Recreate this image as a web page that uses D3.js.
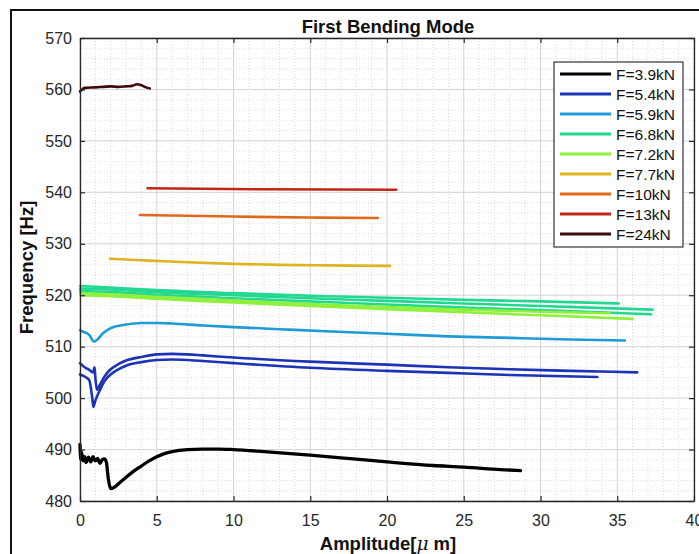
<!DOCTYPE html>
<html><head><meta charset="utf-8">
<script src="https://cdn.jsdelivr.net/npm/d3@7"></script>
<style>
body{margin:0;background:#fff;}
text{font-family:"Liberation Sans",Arial,sans-serif;}
</style></head>
<body><svg id="chart" width="699" height="554"></svg>
<script>
// ---- data ----
const forces = ["F=3.9kN","F=5.4kN","F=5.9kN","F=6.8kN","F=7.2kN","F=7.7kN","F=10kN","F=13kN","F=24kN"];
const forceColors = ["#000000","#1c33b5","#1e9bd7","#22d890","#8ff03c","#e0b420","#e06818","#c22418","#3b0b0b"];
const xTicks = [0,5,10,15,20,25,30,35,40];
const yTicks = [480,490,500,510,520,530,540,550,560,570];

const c39 = [[0,491],[0.05,488],[0.1,489.5],[0.2,487.8],[0.3,488.6],[0.4,487.5],[0.55,488.5],[0.7,487.6],[0.85,488.6],[1.0,487.8],[1.15,488.3],[1.3,487.3],[1.45,488],[1.6,488.2],[1.72,487.5],[1.85,484.2],[2.0,482.4],[2.3,482.8],[2.6,483.6],[3,484.6],[3.5,485.8],[4,486.8],[4.5,487.8],[5,488.6],[5.5,489.2],[6,489.6],[7,490.0],[8,490.1],[9,490.1],[10,490.0],[12,489.6],[15,488.9],[17,488.4],[20,487.6],[23,486.9],[25,486.6],[27.4,486.1],[28.7,485.9]];
const c54a = [[0,506.8],[0.3,506],[0.6,505.5],[0.85,505],[0.95,506],[1.0,504],[1.1,501.6],[1.3,502.6],[1.6,504.2],[2,505.6],[2.5,506.6],[3,507.3],[4,508.0],[5,508.5],[6,508.6],[7,508.5],[8,508.3],[10,507.9],[15,507.1],[20,506.5],[24,506.0],[28,505.6],[32,505.3],[36.3,505.0]];
const c54b = [[0,504.6],[0.3,504.2],[0.6,503.5],[0.8,500],[0.87,498.3],[1.0,499.5],[1.3,501.6],[1.6,503.3],[2,504.6],[2.5,505.6],[3,506.3],[4,507.0],[5,507.4],[6,507.5],[8,507.2],[10,506.8],[15,505.9],[20,505.3],[24,504.9],[28,504.5],[33.7,504.1]];
const c59 = [[0,513.2],[0.3,512.8],[0.6,512.3],[0.9,511.0],[1.1,511.3],[1.5,512.6],[2,513.6],[3,514.3],[4,514.6],[5,514.6],[6,514.5],[8,514.1],[10,513.8],[13,513.4],[16,513.0],[20,512.5],[24,512.0],[28,511.7],[32,511.4],[35.5,511.2]];
const c68a = [[0,521.8],[2,521.5],[5,521.0],[10,520.4],[15,519.9],[20,519.5],[25,519.1],[30,518.8],[35.1,518.4]];
const c68b = [[0,521.3],[2,521.1],[5,520.6],[10,520.0],[15,519.4],[20,518.9],[25,518.4],[30,517.9],[37.3,517.2]];
const c68c = [[0,520.8],[2,520.6],[5,520.1],[10,519.4],[15,518.8],[20,518.2],[25,517.6],[30,517.1],[37.2,516.3]];
const c72a = [[0,520.4],[2,520.2],[5,519.7],[10,519.0],[15,518.3],[20,517.7],[25,517.2],[30,516.8],[34.5,516.5]];
const c72b = [[0,520.0],[2,519.8],[5,519.3],[10,518.6],[15,517.9],[20,517.3],[25,516.7],[30,516.1],[36.0,515.4]];
const c77 = [[1.95,527.1],[4,526.8],[7,526.4],[10,526.1],[13,525.9],[16,525.8],[20.2,525.7]];
const c10 = [[3.9,535.6],[10,535.3],[15,535.1],[19.4,535.0]];
const c13 = [[4.4,540.8],[12,540.6],[20.6,540.5]];
const c24 = [[0,559.6],[0.1,559.9],[0.3,560.3],[1,560.4],[1.5,560.5],[2,560.6],[2.5,560.5],[3,560.6],[3.4,560.7],[3.7,561.0],[4.0,560.8],[4.3,560.4],[4.55,560.2]];

const curves = [
  {k:0,pts:c39},{k:1,pts:c54a},{k:1,pts:c54b},{k:2,pts:c59},
  {k:3,pts:c68a},{k:3,pts:c68b},{k:3,pts:c68c},{k:4,pts:c72a},{k:4,pts:c72b},
  {k:5,pts:c77},{k:6,pts:c10},{k:7,pts:c13},{k:8,pts:c24}
];

// ---- drawing ----
const svg = d3.select("#chart");
const L=80,R=694,T=38,B=501;
const x = d3.scaleLinear().domain([0,40]).range([L,R]);
const y = d3.scaleLinear().domain([480,570]).range([B,T]);

// outer frame
svg.append("rect").attr("x",11).attr("y",10).attr("width",720).attr("height",600)
  .attr("fill","#fff").attr("stroke","#111").attr("stroke-width",2);

// grid
const g = svg.append("g");
d3.range(0,41,1).filter(v=>v%5!==0).forEach(v=>{
  g.append("line").attr("x1",x(v)).attr("x2",x(v)).attr("y1",T).attr("y2",B)
   .attr("stroke","#dcdcdc").attr("stroke-dasharray","1,2");
});
d3.range(480,571,2).filter(v=>v%10!==0).forEach(v=>{
  g.append("line").attr("y1",y(v)).attr("y2",y(v)).attr("x1",L).attr("x2",R)
   .attr("stroke","#dcdcdc").attr("stroke-dasharray","1,2");
});
xTicks.forEach(v=>{
  g.append("line").attr("x1",x(v)).attr("x2",x(v)).attr("y1",T).attr("y2",B)
   .attr("stroke","#d4d4d4");
});
yTicks.forEach(v=>{
  g.append("line").attr("y1",y(v)).attr("y2",y(v)).attr("x1",L).attr("x2",R)
   .attr("stroke","#d4d4d4");
});

// curves
const line = d3.line().x(d=>x(d[0])).y(d=>y(d[1])).curve(d3.curveMonotoneX);
curves.forEach(c=>{
  svg.append("path").datum(c.pts).attr("d",line).attr("fill","none")
    .attr("stroke",forceColors[c.k]).attr("stroke-width",c.k===0?3.3:2.6)
    .attr("stroke-linejoin","round").attr("stroke-linecap","round");
});

// axes
const axCol="#262626";
function styleAxis(sel){
  sel.select(".domain").attr("stroke",axCol).attr("stroke-width",1.3);
  sel.selectAll(".tick line").attr("stroke",axCol).attr("stroke-width",1.2);
  sel.selectAll(".tick text").attr("fill","#262626").style("font-size","16px")
    .style("font-family","'Liberation Sans',Arial,sans-serif");
}
svg.append("g").attr("transform",`translate(0,${B})`)
  .call(d3.axisBottom(x).tickValues(xTicks).tickSizeInner(-5).tickSizeOuter(0).tickPadding(14))
  .call(styleAxis);
svg.append("g").attr("transform",`translate(${L},0)`)
  .call(d3.axisLeft(y).tickValues(yTicks).tickSizeInner(-5).tickSizeOuter(0).tickPadding(8))
  .call(styleAxis);
svg.append("g").attr("transform",`translate(0,${T})`)
  .call(d3.axisTop(x).tickValues(xTicks).tickSizeInner(-5).tickSizeOuter(0).tickFormat(""))
  .call(styleAxis);
svg.append("g").attr("transform",`translate(${R},0)`)
  .call(d3.axisRight(y).tickValues(yTicks).tickSizeInner(-5).tickSizeOuter(0).tickFormat(""))
  .call(styleAxis);

// title & labels
svg.append("text").attr("x",388).attr("y",33).attr("text-anchor","middle")
  .style("font-size","18.5px").style("font-weight","bold").attr("fill","#111").text("First Bending Mode");
const xl = svg.append("text").attr("x",388).attr("y",550).attr("text-anchor","middle")
  .style("font-size","18.5px").style("font-weight","bold").attr("fill","#111");
xl.append("tspan").text("Amplitude[");
xl.append("tspan").style("font-style","italic").style("font-family","'DejaVu Serif',serif").style("font-weight","normal").text("μ");
xl.append("tspan").text(" m]");
svg.append("text").attr("transform",`translate(33,${(T+B)/2 - 2}) rotate(-90)`).attr("text-anchor","middle")
  .style("font-size","18.5px").style("font-weight","bold").attr("fill","#111").text("Frequency [Hz]");

// legend
const lg = svg.append("g");
lg.append("rect").attr("x",554).attr("y",62).attr("width",129).attr("height",185)
  .attr("fill","#fff").attr("stroke","#333").attr("stroke-width",1.2);
forces.forEach((f,i)=>{
  const cy = 74 + i*20;
  lg.append("line").attr("x1",560).attr("x2",611).attr("y1",cy).attr("y2",cy)
    .attr("stroke",forceColors[i]).attr("stroke-width",3);
  lg.append("text").attr("x",616).attr("y",cy+5.5).style("font-size","15.5px").attr("fill","#111").text(f);
});
</script></body></html>
